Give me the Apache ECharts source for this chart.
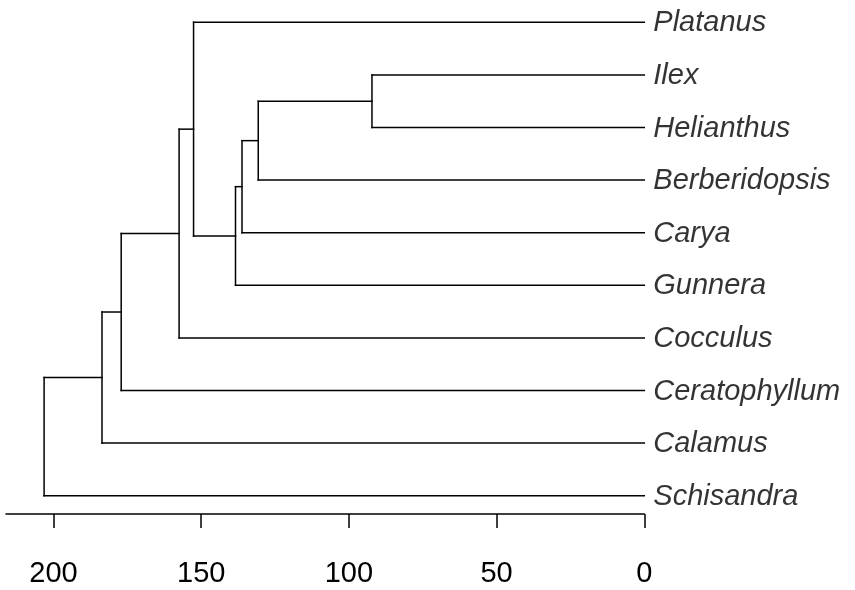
<!DOCTYPE html>
<html>
<head>
<meta charset="utf-8">
<script src="https://cdn.jsdelivr.net/npm/echarts@6/dist/echarts.min.js"></script>
<style>
  html, body { margin: 0; padding: 0; background: #fff; }
  #chart { width: 855px; height: 590px; }
</style>
</head>
<body>
<div id="chart"></div>
<script>
// Tip order from top to bottom
const tipLabels = ['Platanus', 'Ilex', 'Helianthus', 'Berberidopsis', 'Carya',
  'Gunnera', 'Cocculus', 'Ceratophyllum', 'Calamus', 'Schisandra'];

// Agglomerative merges: merge i joins mergeA[i] and mergeB[i] into node 'n' + (i + 1)
const mergeA = ['Ilex', 'n1', 'n2', 'n3', 'Platanus', 'n5', 'n6', 'n7', 'n8'];
const mergeB = ['Helianthus', 'Berberidopsis', 'Carya', 'Gunnera', 'n4',
  'Cocculus', 'Ceratophyllum', 'Calamus', 'Schisandra'];
const mergeHeight = [92.2, 130.7, 136.2, 138.4, 152.6, 157.5, 177.1, 183.6, 203.2];

// Axis ticks
const tickValues = [0, 50, 100, 150, 200];

// Node positions: x = height (age), y = row position
const pos = {};
tipLabels.forEach((name, i) => { pos[name] = { x: 0, y: i + 1 }; });

const segments = [];
mergeA.forEach((a, i) => {
  const b = mergeB[i];
  const h = mergeHeight[i];
  const pa = pos[a], pb = pos[b];
  const y = (pa.y + pb.y) / 2;
  pos['n' + (i + 1)] = { x: h, y: y };
  // vertical connector
  segments.push([h, pa.y, h, pb.y]);
  // horizontal branches to the children
  segments.push([h, pa.y, pa.x, pa.y]);
  segments.push([h, pb.y, pb.x, pb.y]);
});

const tipPoints = tipLabels.map((name, i) => ({ name: name, value: [0, i + 1] }));

const FONT = "'Liberation Sans', Arial, Helvetica, sans-serif";

const chart = echarts.init(document.getElementById('chart'), null, { renderer: 'canvas' });
chart.setOption({
  animation: false,
  backgroundColor: '#ffffff',
  grid: { left: 6, right: 210.7, top: 22.3, bottom: 94.3, containLabel: false },
  xAxis: {
    type: 'value',
    inverse: true,
    min: 0,
    max: 216.1,
    interval: 50,
    offset: 18.3,
    splitLine: { show: false },
    axisLine: { show: true, onZero: false, lineStyle: { color: '#000', width: 1.5 } },
    axisTick: { show: true, length: 14, customValues: tickValues, lineStyle: { color: '#000', width: 1.5 } },
    axisLabel: {
      show: true, customValues: tickValues, margin: 45,
      color: '#000', fontSize: 29, fontFamily: FONT
    }
  },
  yAxis: {
    type: 'value',
    inverse: true,
    min: 1,
    max: 10,
    show: false
  },
  series: [
    {
      type: 'custom',
      coordinateSystem: 'cartesian2d',
      data: segments,
      encode: { x: [0, 2], y: [1, 3] },
      renderItem: function (params, api) {
        const p1 = api.coord([api.value(0), api.value(1)]);
        const p2 = api.coord([api.value(2), api.value(3)]);
        return {
          type: 'line',
          shape: { x1: p1[0], y1: p1[1], x2: p2[0], y2: p2[1] },
          style: { stroke: '#000', lineWidth: 1.5, lineCap: 'square' }
        };
      }
    },
    {
      type: 'scatter',
      data: tipPoints,
      symbolSize: 0,
      label: {
        show: true,
        position: 'right',
        distance: 9,
        offset: [0, 1],
        formatter: '{b}',
        color: '#000',
        fontSize: 29,
        fontStyle: 'italic',
        fontFamily: FONT
      }
    }
  ]
});
</script>
</body>
</html>
